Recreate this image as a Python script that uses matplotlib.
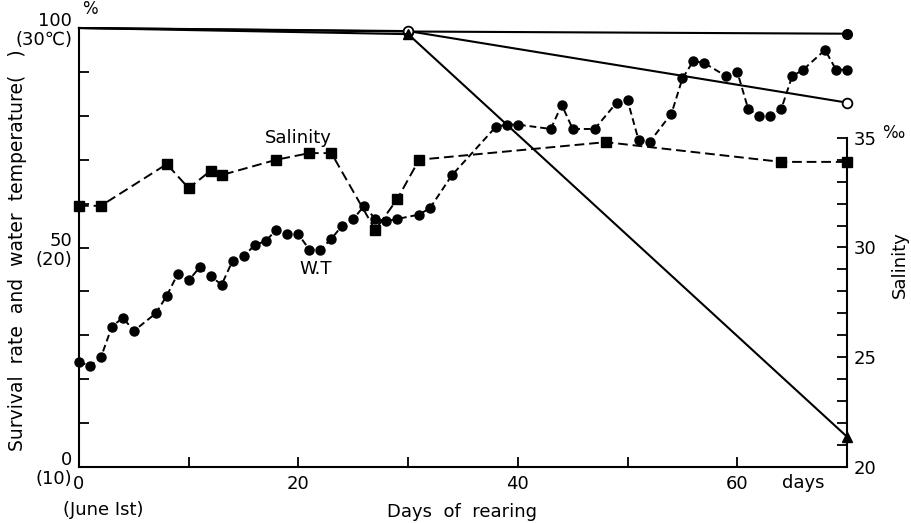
import numpy as np
import matplotlib.pyplot as plt

plt.rcParams['font.family'] = 'DejaVu Sans'

# water temperature (deg C) by day of rearing
wt_days = [0, 1, 2, 3, 4, 5, 7, 8, 9, 10, 11, 12, 13, 14, 15, 16, 17, 18, 19, 20,
           21, 22, 23, 24, 25, 26, 27, 28, 29, 31, 32, 34, 38, 39, 40, 43, 44, 45,
           47, 49, 50, 51, 52, 54, 55, 56, 57, 59, 60, 61, 62, 63, 64, 65, 66, 68,
           69, 70]
wt_temp = [14.8, 14.6, 15.0, 16.4, 16.8, 16.2, 17.0, 17.8, 18.8, 18.5, 19.1, 18.7,
           18.3, 19.4, 19.6, 20.1, 20.3, 20.8, 20.6, 20.6, 19.9, 19.9, 20.4, 21.0,
           21.3, 21.9, 21.3, 21.2, 21.3, 21.5, 21.8, 23.3, 25.5, 25.6, 25.6, 25.4,
           26.5, 25.4, 25.4, 26.6, 26.7, 24.9, 24.8, 26.1, 27.7, 28.5, 28.4, 27.8,
           28.0, 26.3, 26.0, 26.0, 26.3, 27.8, 28.1, 29.0, 28.1, 28.1]

# salinity (permil)
sal_days = [0, 2, 8, 10, 12, 13, 18, 21, 23, 27, 29, 31, 48, 64, 70]
sal_vals = [31.9, 31.9, 33.8, 32.7, 33.5, 33.3, 34.0, 34.3, 34.3, 30.8, 32.2,
            34.0, 34.8, 33.9, 33.9]

# survival rate (%) of the three groups
surv_days = [0, 30, 70]
surv_a = [100, 99.2, 98.7]
surv_b = [100, 99.3, 83.0]
surv_c = [100, 98.6, 6.9]

fig = plt.figure(figsize=(9.11, 5.23), dpi=100)
ax = fig.add_axes([79/911, 1-467/523, (847-79)/911, (467-28)/523])
ax.set_xlim(0, 70)
ax.set_ylim(0, 100)

# temperature on the survival scale: 10 C -> 0 %, 30 C -> 100 %
wt_pct = (np.array(wt_temp) - 10) * 5
ax.plot(wt_days, wt_pct, color='black', lw=1.4, dashes=(3.5, 2), marker='o',
        ms=6.5, clip_on=False, zorder=3)

kw = dict(color='black', lw=1.5, clip_on=False, markevery=[1, 2], zorder=4)
ax.plot(surv_days, surv_a, marker='o', ms=7, **kw)
ax.plot(surv_days, surv_b, marker='o', ms=7, mfc='white', mew=1.3, **kw)
ax.plot(surv_days, surv_c, marker='^', ms=7, **kw)

ax2 = ax.twinx()
ax2.set_ylim(20, 40)
ax2.plot(sal_days, sal_vals, color='black', lw=1.4, dashes=(5, 2.5), marker='s',
         ms=6.5, clip_on=False, zorder=3)

for s in ['top', 'right']:
    ax.spines[s].set_visible(False)
for s in ['top', 'left', 'bottom']:
    ax2.spines[s].set_visible(False)
ax2.spines['right'].set_bounds(20, 35)
for sp in [ax.spines['left'], ax.spines['bottom'], ax2.spines['right']]:
    sp.set_linewidth(1.5)

ax.set_xticks(range(0, 71, 10))
ax.set_xticklabels(['0', '', '20', '', '40', '', '60', ''])
ax.set_yticks(range(0, 101, 10))
ylabs = [''] * 11
ylabs[0] = '0\n(10)'
ylabs[5] = '50\n(20)'
ylabs[10] = '100\n(30\u2103)'
ax.set_yticklabels(ylabs, multialignment='right', linespacing=1.1)
ax.tick_params(direction='in', length=7, width=1.3, labelsize=13, pad=5)
ax.tick_params(axis='x', pad=6)

ax2.set_yticks(range(20, 36))
ax2.set_yticklabels([str(v) if v % 5 == 0 else '' for v in range(20, 36)])
ax2.tick_params(direction='in', length=7, width=1.3, labelsize=13, pad=5)

ax.text(66, -3.6, 'days', ha='center', va='center', fontsize=13)
ax.text(20, 75, 'Salinity', ha='center', va='center', fontsize=13)
ax.text(21.6, 45, 'W.T', ha='center', va='center', fontsize=13)

fig.text(90/911, 1-9/523, '%', ha='center', va='center', fontsize=12)
fig.text(893/911, 1-133/523, '\u2030', ha='center', va='center', fontsize=12)
fig.text(18/911, 1-250/523, 'Survival  rate  and  water  temperature(   )',
         rotation=90, ha='center', va='center', fontsize=13.5)
fig.text(900/911, 1-265/523, 'Salinity', rotation=90, ha='center',
         va='center', fontsize=13)
fig.text(462/911, 1-512/523, 'Days  of  rearing', ha='center', va='center',
         fontsize=13)
fig.text(103/911, 1-510/523, '(June Ist)', ha='center', va='center',
         fontsize=13)

fig.savefig('out.png', dpi=100, facecolor='white')
